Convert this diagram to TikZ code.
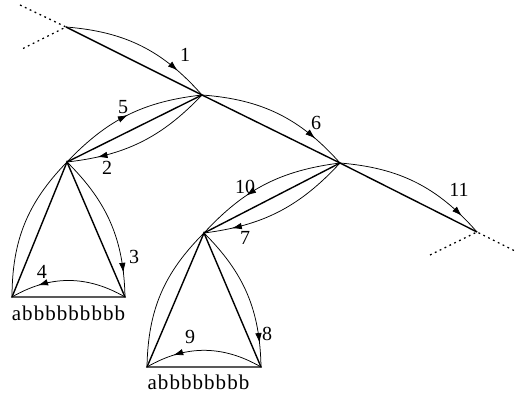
\documentclass[tikz,border=0pt]{standalone}
\usepackage{fontspec}
\setmainfont{Liberation Serif}
\usetikzlibrary{decorations.markings,arrows.meta}
\begin{document}
\begin{tikzpicture}[x=1pt,y=1pt,
  thickline/.style={line width=1.4pt},
  arcline/.style={line width=0.75pt},
  dotline/.style={line width=1.3pt, dash pattern=on 1.8pt off 3.6pt},
  arr/.style={postaction={decorate},decoration={markings,mark=at position #1 with {\arrow{Latex[length=10pt,width=6.5pt]}}}},
  lbl/.style={font=\fontsize{20}{20}\selectfont, inner sep=0pt},
  leaf/.style={font=\fontsize{21}{21}\selectfont\addfontfeature{LetterSpace=5}, inner sep=0pt, anchor=base},
]
\useasboundingbox (0,0) rectangle (515,-398);
% spine
\coordinate (A) at (66,-27);
\coordinate (B) at (202,-95);
\coordinate (C) at (340,-163);
\coordinate (D) at (477,-232);
\coordinate (A1) at (20,-5);
\coordinate (A2) at (20,-50);
\coordinate (D1) at (430,-255);
\coordinate (D2) at (515,-251);
% left subtree
\coordinate (E) at (67,-162);
\coordinate (F) at (12,-297);
\coordinate (G) at (125,-297);
% right subtree
\coordinate (H) at (204,-233);
\coordinate (I) at (147,-367);
\coordinate (J) at (261,-367);

\draw[dotline] (A1) -- (A) -- (A2);
\draw[dotline] (D1) -- (D) -- (D2);

\draw[thickline] (A) -- (B) -- (C) -- (D);
\draw[thickline] (B) -- (E);
\draw[thickline] (C) -- (H);
\draw[thickline] (E) -- (F) -- (G) -- cycle;
\draw[thickline] (H) -- (I) -- (J) -- cycle;

% spine arcs
\draw[arcline, arr=0.78] (A) to[bend left=22] (B);
\draw[arcline, arr=0.78] (B) to[bend left=22] (C);
\draw[arcline, arr=0.86] (C) to[bend left=22] (D);

% B--E arcs
\draw[arcline, arr=0.5] (E) to[bend left=20] (B);
\draw[arcline, arr=0.8] (B) to[bend left=20] (E);
% left triangle arcs
\draw[arcline] (E) to[bend right=22] (F);
\draw[arcline, arr=0.84] (E) to[bend left=22] (G);
\draw[arcline, arr=0.76] (G) to[bend right=30] (F);

% C--H arcs
\draw[arcline, arr=0.64] (C) to[bend right=20] (H);
\draw[arcline, arr=0.82] (C) to[bend left=20] (H);
% right triangle arcs
\draw[arcline] (H) to[bend right=22] (I);
\draw[arcline, arr=0.84] (H) to[bend left=22] (J);
\draw[arcline, arr=0.76] (J) to[bend right=30] (I);

% labels
\node[lbl] (l1) at (185,-55) {1};
\node[lbl] (l2) at (107,-168) {2};
\node[lbl] (l3) at (134,-257) {3};
\node[lbl] (l4) at (42,-272) {4};
\node[lbl] (l5) at (123,-107) {5};
\node[lbl] (l6) at (316,-123) {6};
\node[lbl] (l7) at (245,-238) {7};
\node[lbl] (l8) at (267,-334) {8};
\node[lbl] (l9) at (190,-337) {9};
\node[lbl] (l10) at (245,-187) {10};
\node[lbl] (l11) at (459,-190) {11};

\node[leaf] (t1) at (68.5,-321) {abbbbbbbbb};
\node[leaf] (t2) at (198.5,-390) {abbbbbbbb};
\end{tikzpicture}
\end{document}
